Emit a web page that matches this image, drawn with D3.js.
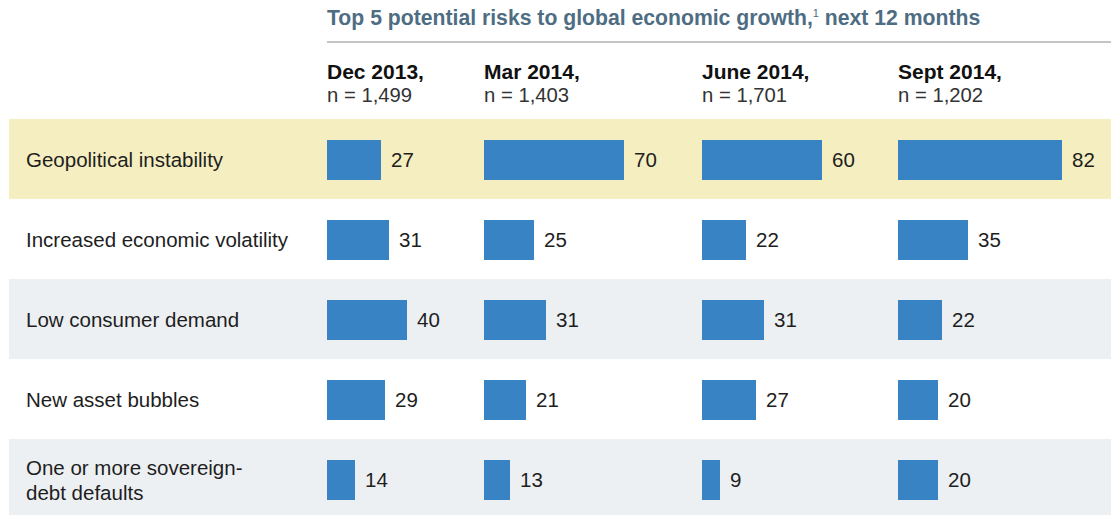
<!DOCTYPE html>
<html>
<head>
<meta charset="utf-8">
<script src="https://cdn.jsdelivr.net/npm/d3@7"></script>
<style>
  body { margin: 0; background: #fff; }
  text { font-family: "Liberation Sans", Arial, Helvetica, sans-serif; }
</style>
</head>
<body>
<div id="chart"></div>
<script>
var title = "Top 5 potential risks to global economic growth,";
var titleNote = "1";
var titleEnd = " next 12 months";

var risks = [
  ["Geopolitical instability"],
  ["Increased economic volatility"],
  ["Low consumer demand"],
  ["New asset bubbles"],
  ["One or more sovereign-", "debt defaults"]
];

var surveys = ["Dec 2013,", "Mar 2014,", "June 2014,", "Sept 2014,"];
var samples = ["n = 1,499", "n = 1,403", "n = 1,701", "n = 1,202"];

var dec2013  = [27, 31, 40, 29, 14];
var mar2014  = [70, 25, 31, 21, 13];
var june2014 = [60, 22, 31, 27, 9];
var sept2014 = [82, 35, 22, 20, 20];

var series = [dec2013, mar2014, june2014, sept2014];

// layout
var width = 1115, height = 515;
var colX = [327, 484, 702, 898];
var bandColors = ["#f5eec0", "#ffffff", "#edf0f3", "#ffffff", "#edf0f3"];

var svg = d3.select("#chart")
  .append("svg")
    .attr("width", width)
    .attr("height", height);

var y = d3.scaleBand()
  .domain(d3.range(risks.length))
  .range([120, 520]);

var x = d3.scaleLinear()
  .domain([0, 100])
  .range([0, 200]);

// title
var t = svg.append("text")
  .attr("x", 327)
  .attr("y", 25)
  .attr("fill", "#4e6d83")
  .attr("font-size", 21.2)
  .attr("font-weight", "bold");
t.append("tspan").text(title);
t.append("tspan")
  .attr("font-size", 11)
  .attr("font-weight", "normal")
  .attr("dy", -8)
  .text(titleNote);
t.append("tspan").attr("dy", 8).text(titleEnd);

svg.append("line")
  .attr("x1", 327)
  .attr("x2", 1111)
  .attr("y1", 42)
  .attr("y2", 42)
  .attr("stroke", "#c4c4c4")
  .attr("stroke-width", 2);

// column headers
var head = svg.selectAll(".head")
  .data(surveys)
  .enter().append("g")
    .attr("class", "head")
    .attr("transform", function(d, i) { return "translate(" + colX[i] + ",0)"; });

head.append("text")
  .attr("y", 79)
  .attr("font-size", 21)
  .attr("font-weight", "bold")
  .attr("fill", "#111")
  .text(function(d) { return d; });

head.append("text")
  .attr("y", 102)
  .attr("font-size", 20.3)
  .attr("fill", "#333")
  .text(function(d, i) { return samples[i]; });

// row bands
var row = svg.selectAll(".row")
  .data(risks)
  .enter().append("g")
    .attr("class", "row")
    .attr("transform", function(d, i) { return "translate(0," + y(i) + ")"; });

row.append("rect")
  .attr("x", 9)
  .attr("y", -1)
  .attr("width", 1102)
  .attr("height", y.bandwidth())
  .attr("fill", function(d, i) { return bandColors[i]; });

row.append("text")
  .attr("x", 26)
  .attr("font-size", 20.5)
  .attr("fill", "#1e1e1e")
  .selectAll("tspan")
  .data(function(d) { return d; })
  .enter().append("tspan")
    .attr("x", 26)
    .attr("y", function(d, i, nodes) {
      var mid = y.bandwidth() / 2 + 7;
      return nodes.length > 1 ? mid - 12 + i * 25 : mid;
    })
    .text(function(d) { return d; });

// bars
series.forEach(function(vals, c) {
  var g = svg.append("g")
    .attr("transform", "translate(" + colX[c] + ",0)");

  g.selectAll("rect")
    .data(vals)
    .enter().append("rect")
      .attr("x", 0)
      .attr("y", function(d, i) { return y(i) + 20; })
      .attr("width", function(d) { return x(d); })
      .attr("height", 40)
      .attr("fill", "#3783c4");

  g.selectAll("text")
    .data(vals)
    .enter().append("text")
      .attr("x", function(d) { return x(d) + 10; })
      .attr("y", function(d, i) { return y(i) + y.bandwidth() / 2 + 7; })
      .attr("font-size", 20.5)
      .attr("fill", "#1e1e1e")
      .text(function(d) { return d; });
});
</script>
</body>
</html>
